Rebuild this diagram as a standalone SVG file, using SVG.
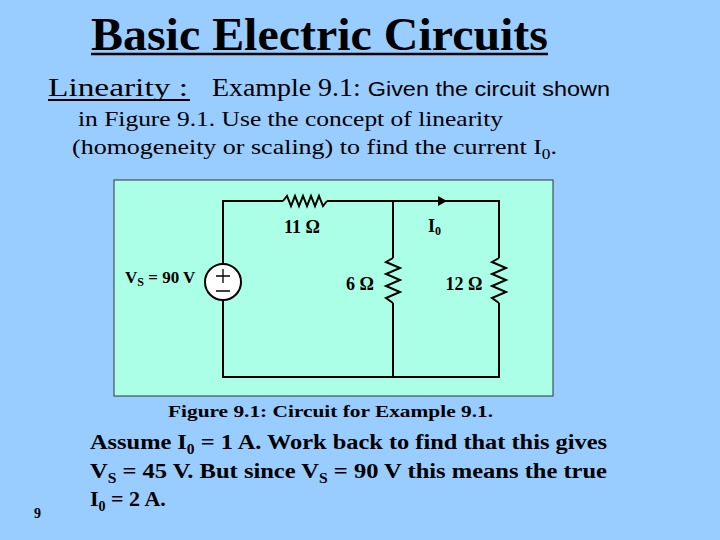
<svg xmlns="http://www.w3.org/2000/svg" width="720" height="540" viewBox="0 0 720 540">
<style>
.t{font-family:"Liberation Serif",serif;fill:#000}
.b{font-weight:bold}
.w{fill:none;stroke:#000;stroke-width:2}
</style>
<rect width="720" height="540" fill="#99ccff"/>
<text class="t b" x="91" y="50" font-size="46" textLength="457" lengthAdjust="spacingAndGlyphs">Basic Electric Circuits</text>
<line x1="91" y1="54" x2="548" y2="54" stroke="#000" stroke-width="2.5"/>
<text class="t" x="48" y="96" font-size="25" textLength="140" lengthAdjust="spacingAndGlyphs">Linearity :</text>
<line x1="48" y1="100" x2="190" y2="100" stroke="#000" stroke-width="2"/>
<text class="t" x="212" y="96" font-size="25" textLength="398" lengthAdjust="spacingAndGlyphs">Example 9.1: <tspan font-family="Liberation Sans,sans-serif" font-size="21">Given the circuit shown</tspan></text>
<text class="t" x="78" y="126" font-size="21" textLength="425" lengthAdjust="spacingAndGlyphs">in Figure 9.1.  Use the concept of linearity</text>
<text class="t" x="72" y="154" font-size="21" textLength="485" lengthAdjust="spacingAndGlyphs">(homogeneity or scaling) to find the current I<tspan font-size="14" dy="5">0</tspan><tspan dy="-5">.</tspan></text>
<rect x="114" y="180" width="439" height="216" fill="#aaffe6" stroke="#333" stroke-width="1"/>
<g id="connectors">
<path class="w" d="M223 264 V201 H283 M327 201 H499 V258 M499 303 V377 H223 V300 M393 201 V258 M393 303 V377"/>
<path d="M438 196 L447 201 L438 206 Z" fill="#000"/>
</g>
<g id="R11"><polyline class="w" stroke-width="1.5" points="283,201 287,196 291,206 295,196 299,206 303,196 307,206 311,196 315,206 319,196 323,206 327,201"/><text class="t b" x="302" y="233" font-size="18" text-anchor="middle">11 Ω</text></g>
<g id="R6"><polyline class="w" stroke-width="1.5" points="393,258 386,262 400,268 386,274 400,280 386,286 400,292 386,298 393,303"/><text class="t b" x="360" y="290" font-size="18" text-anchor="middle">6 Ω</text></g>
<g id="R12"><polyline class="w" stroke-width="1.5" points="499,258 492,262 506,268 492,274 506,280 492,286 506,292 492,298 499,303"/><text class="t b" x="464" y="290" font-size="18" text-anchor="middle">12 Ω</text></g>
<g id="VS"><circle cx="223" cy="282" r="18" fill="#fff" stroke="#000" stroke-width="2"/><path d="M216 276 H230 M223 269 V283 M216 291 H230" stroke="#000" stroke-width="1.3" fill="none"/><text class="t b" x="125" y="283" font-size="17">V<tspan font-size="12" dy="3">S</tspan><tspan dy="-3"> = 90 V</tspan></text></g>
<g id="I0"><text class="t b" x="428" y="232" font-size="18">I<tspan font-size="12" dy="3">0</tspan></text></g>
<text class="t b" x="168" y="417" font-size="17" textLength="325" lengthAdjust="spacingAndGlyphs">Figure 9.1:  Circuit for Example 9.1.</text>
<text class="t b" x="90" y="449" font-size="22" textLength="517" lengthAdjust="spacingAndGlyphs">Assume I<tspan font-size="14" dy="5">0</tspan><tspan dy="-5"> = 1 A.  Work back to find that this gives</tspan></text>
<text class="t b" x="90" y="478" font-size="22" textLength="517" lengthAdjust="spacingAndGlyphs">V<tspan font-size="14" dy="5">S</tspan><tspan dy="-5"> = 45 V.  But since V</tspan><tspan font-size="14" dy="5">S</tspan><tspan dy="-5"> = 90 V this means the true</tspan></text>
<text class="t b" x="90" y="506" font-size="22">I<tspan font-size="14" dy="5">0</tspan><tspan dy="-5"> = 2 A.</tspan></text>
<text class="t b" x="34" y="518" font-size="14">9</text>
</svg>
